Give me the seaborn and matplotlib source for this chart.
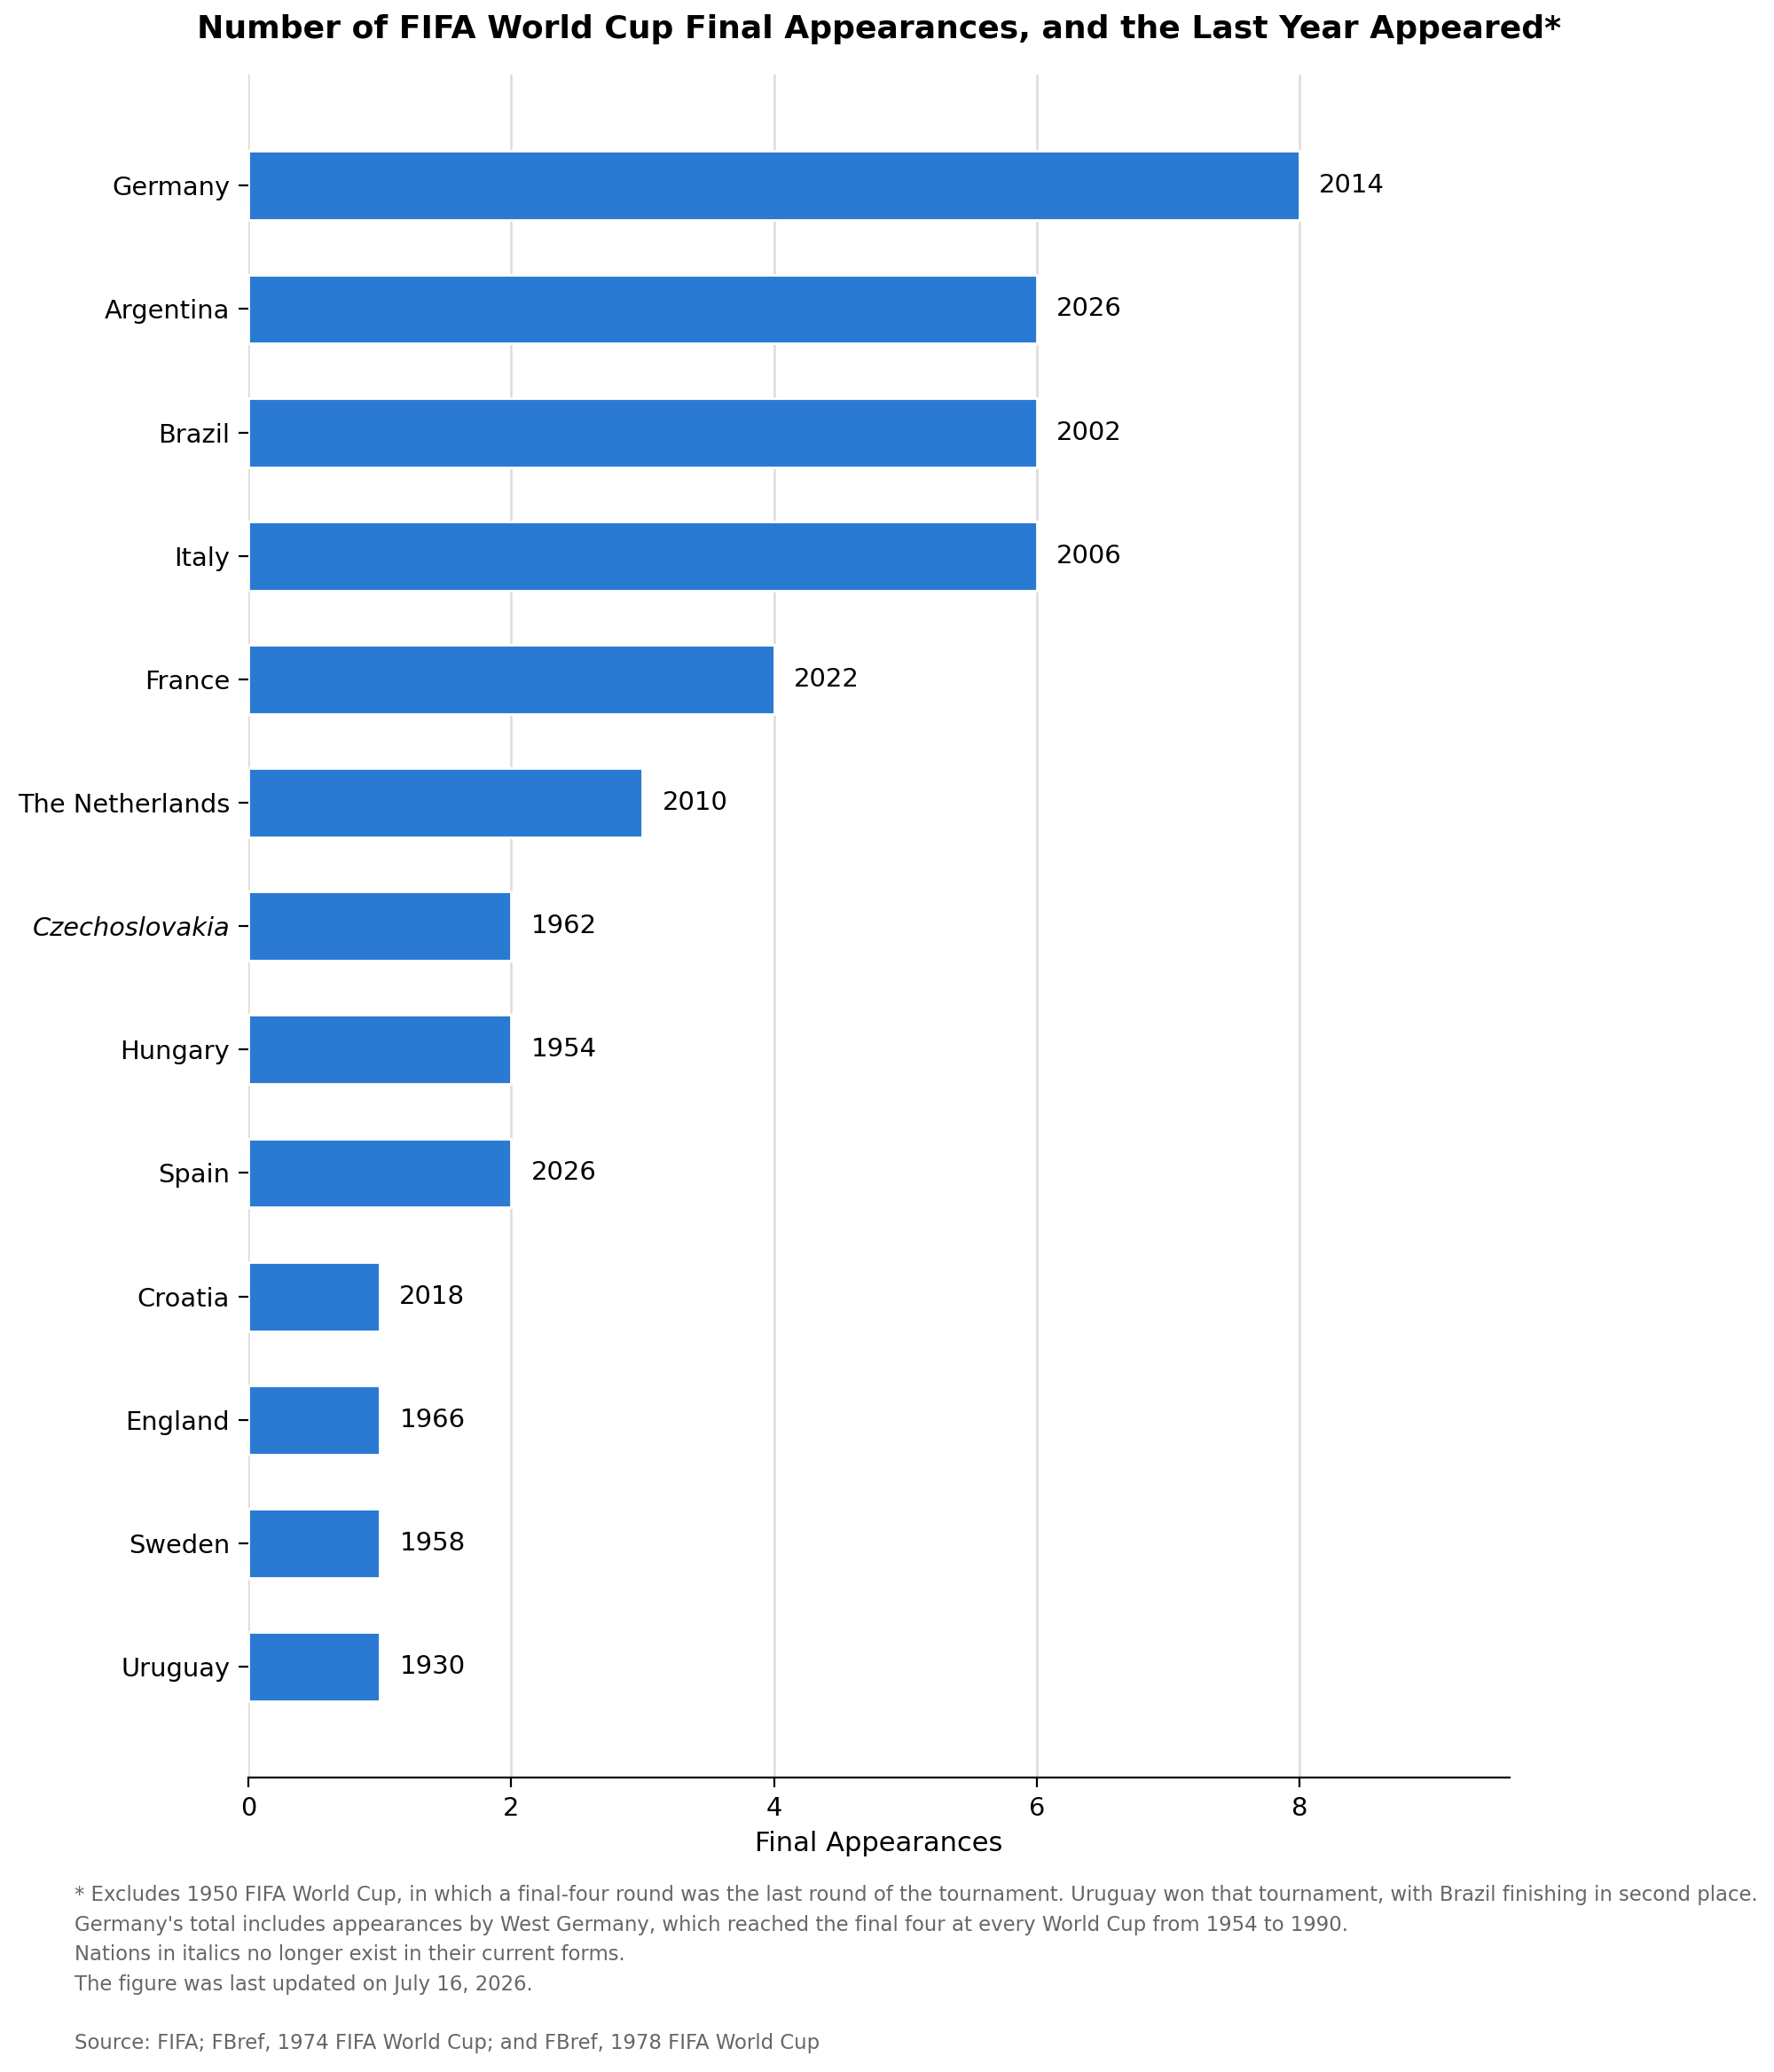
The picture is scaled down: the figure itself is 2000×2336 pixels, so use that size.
import numpy as np
import pandas as pd
import matplotlib
matplotlib.use("Agg")
import matplotlib.pyplot as plt
import seaborn as sns

# data
countries = ["Germany", "Argentina", "Brazil", "Italy", "France", "The Netherlands",
             "Czechoslovakia", "Hungary", "Spain", "Croatia", "England", "Sweden", "Uruguay"]
appearances = [8, 6, 6, 6, 4, 3, 2, 2, 2, 1, 1, 1, 1]
last_year = [2014, 2026, 2002, 2006, 2022, 2010, 1962, 1954, 2026, 2018, 1966, 1958, 1930]
defunct = ["Czechoslovakia"]

df = pd.DataFrame({"Country": countries, "Final Appearances": appearances, "Last": last_year})

sns.set_style("white")
plt.rcParams['font.family'] = ['DejaVu Sans']
plt.rcParams['text.color'] = 'black'
plt.rcParams['axes.labelcolor'] = 'black'
plt.rcParams['xtick.color'] = 'black'
plt.rcParams['ytick.color'] = 'black'

fig = plt.figure(figsize=(10, 11.68), dpi=200)
ax = fig.add_axes([0.14, 0.142, 0.711, 0.822])

sns.barplot(data=df, y="Country", x="Final Appearances", color="#2a7ad3",
            saturation=1, width=0.56, orient="h", ax=ax, zorder=3)

for i, (v, yr) in enumerate(zip(appearances, last_year)):
    ax.text(v + 0.15, i, str(yr), va="center", ha="left", fontsize=10.5, color="black")

ax.set_xlim(0, 9.6)
ax.set_ylim(len(countries) - 0.1, -0.9)
ax.set_xticks([0, 2, 4, 6, 8])
ax.grid(axis="x", color="#dedcd8", linewidth=0.9, zorder=0)
ax.set_axisbelow(True)
for s in ["top", "right", "left"]:
    ax.spines[s].set_visible(False)
ax.spines["bottom"].set_color("black")
ax.tick_params(axis="both", length=4, width=0.8, color="black", labelsize=10.4, bottom=True, left=True)
for lbl in ax.get_yticklabels():
    if lbl.get_text() in defunct:
        lbl.set_style("italic")
ax.set_ylabel("")
ax.set_xlabel("Final Appearances", fontsize=11, labelpad=4)

fig.suptitle("Number of FIFA World Cup Final Appearances, and the Last Year Appeared*",
             fontsize=13, fontweight="bold", y=0.986, va="center", x=0.4955, color="black")

note = ("* Excludes 1950 FIFA World Cup, in which a final-four round was the last round of the tournament. "
        "Uruguay won that tournament, with Brazil finishing in second place.\n"
        "Germany's total includes appearances by West Germany, which reached the final four at every World Cup from 1954 to 1990.\n"
        "Nations in italics no longer exist in their current forms.\n"
        "The figure was last updated on July 16, 2026.\n"
        "\n"
        "Source: FIFA; FBref, 1974 FIFA World Cup; and FBref, 1978 FIFA World Cup")
fig.text(0.042, 0.0902, note, fontsize=8.2, color="#666666", va="top", ha="left", linespacing=1.58)

fig.savefig("out.png", dpi=200)
